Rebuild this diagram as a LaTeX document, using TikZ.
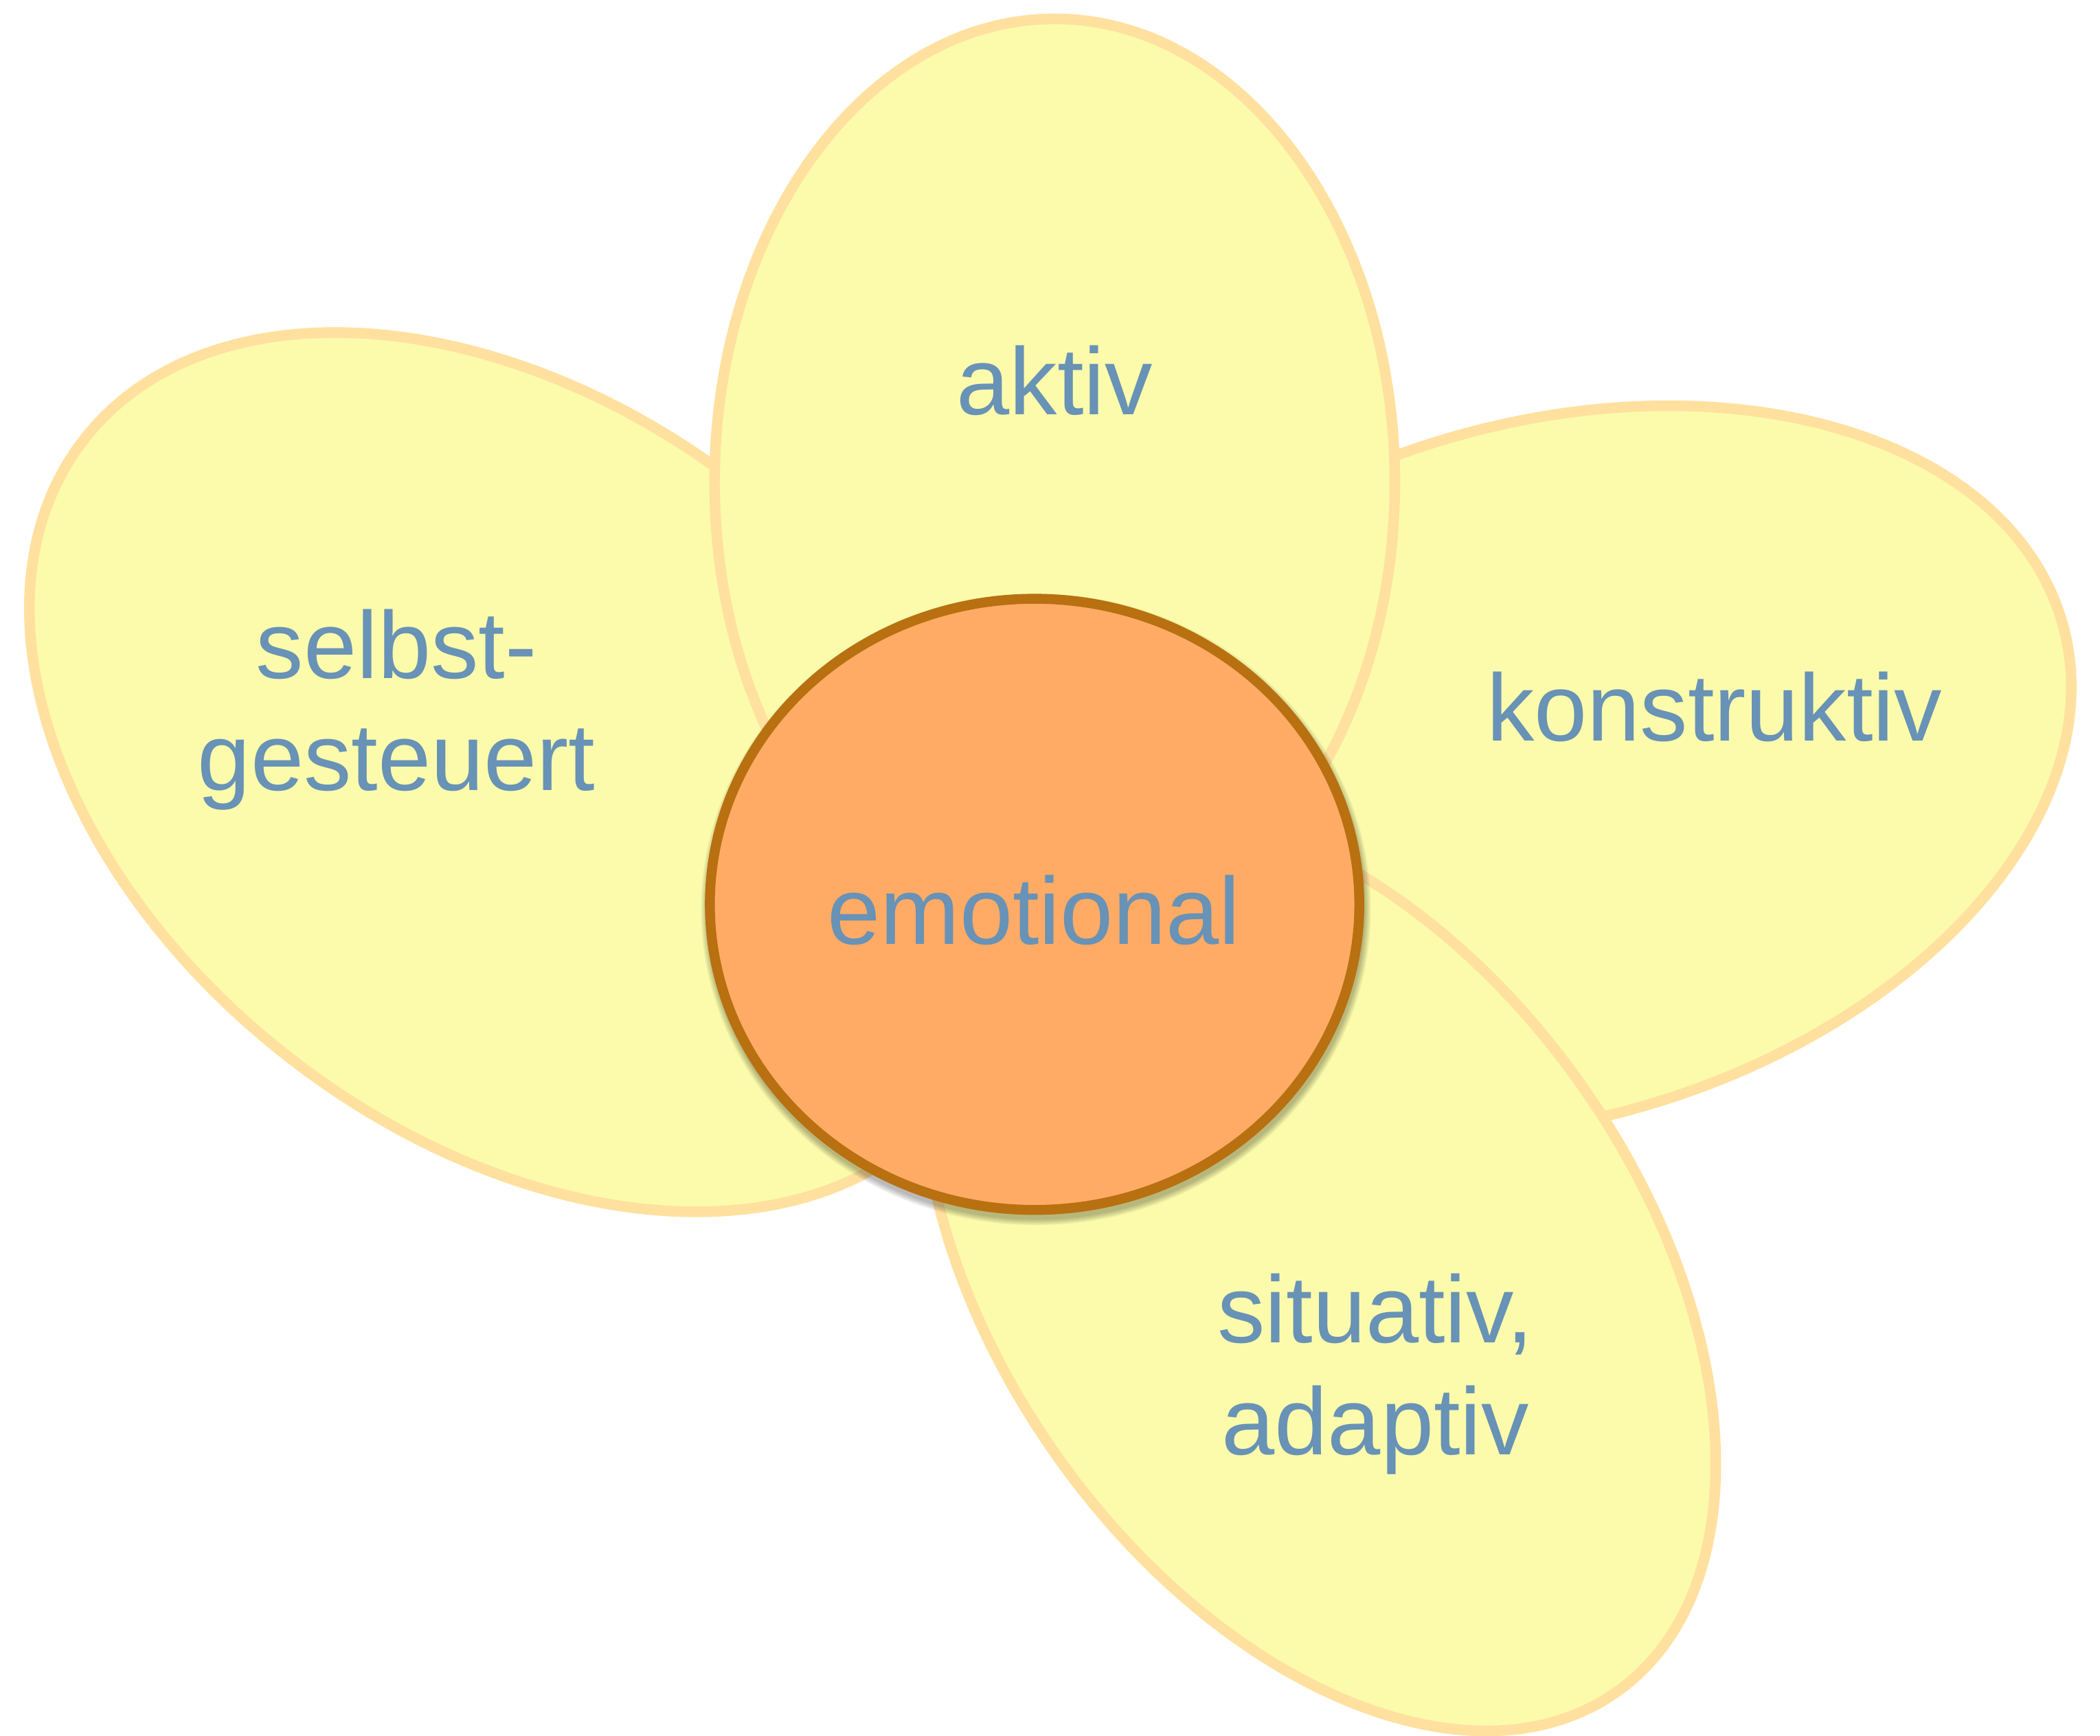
\documentclass[tikz,border=0pt]{standalone}
\usepackage{fontspec}
\setmainfont{Liberation Sans}
\definecolor{petalfill}{HTML}{FBFBAB}
\definecolor{petalline}{HTML}{FFE09E}
\definecolor{corefill}{HTML}{FFAB66}
\definecolor{coreline}{HTML}{B87010}
\definecolor{txt}{HTML}{6892B6}
\begin{document}
\begin{tikzpicture}[x=0.02cm,y=-0.02cm,
  petal/.style={fill=petalfill, draw=petalline, line width=4.5pt},
  core/.style={fill=corefill, draw=coreline, line width=4.2pt},
  coreshadow/.style={fill=black, opacity=0.06},
  lbl/.style={text=txt, font=\fontsize{40.5}{47.6}\selectfont, align=center, inner sep=0pt, anchor=base}]
\useasboundingbox (0,0) rectangle (1568,1296);
\fill[white] (0,0) rectangle (1568,1296);
% petals
\path[petal, rotate around={16.2:(1155,576.3)}] (1155,576.3) ellipse [x radius=8.014cm, y radius=5.196cm];
\path[petal, rotate around={-54.78:(984.7,948.2)}] (984.7,948.2) ellipse [x radius=7.714cm, y radius=4.798cm];
\path[petal, rotate around={-37.4:(385,576.5)}] (385,576.5) ellipse [x radius=8.14cm, y radius=5.44cm];
\path[petal] (787.5,360) ellipse [x radius=5.08cm, y radius=6.92cm];
% shadow of the centre
\foreach \k in {0,1,2,3,4}{
  \path[coreshadow] (773.5,679) ellipse [x radius={(242.5+3.5+\k)*0.02cm}, y radius={(228.2+3.5+\k)*0.02cm}];
}
% centre
\path[core] (772.5,675.2) ellipse [x radius=4.85cm, y radius=4.564cm];
% labels (base anchor = baseline of the last line)
\node[lbl] (aktiv) at (787.5,309.7) {aktiv};
\node[lbl] (selbst) at (296,590) {selbst-\\gesteuert};
\node[lbl] (konstruktiv) at (1280,553) {konstruktiv};
\node[lbl] (situativ) at (1027,1086) {situativ,\\adaptiv};
\node[lbl] (emotional) at (772,705) {emotional};
\end{tikzpicture}
\end{document}
